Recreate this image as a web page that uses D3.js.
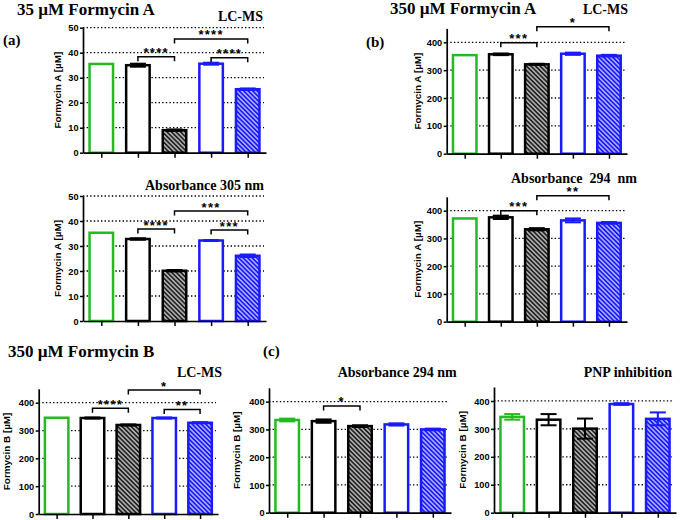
<!DOCTYPE html>
<html>
<head>
<meta charset="utf-8">
<script src="https://cdn.jsdelivr.net/npm/d3@7"></script>
<style>
  body { margin: 0; background: #fff; }
  .title { font-family: "Liberation Serif", "Times New Roman", serif; font-weight: bold; white-space: pre; }
  .tick text { font-family: "Liberation Sans", Arial, sans-serif; font-weight: bold; font-size: 9.2px; }
  .ylab { font-family: "Liberation Sans", Arial, sans-serif; font-weight: bold; font-size: 9.9px; }
  .stars { font-family: "Liberation Sans", Arial, sans-serif; font-weight: bold; font-size: 13px; letter-spacing: 1.3px; }
</style>
</head>
<body>
<div id="viz"></div>
<script>
// bar groups (the figure shows no x labels)
var groups = ["Control", "PNP", "PNP + inhibitor", "PNP 2", "PNP 2 + inhibitor"];

// 35 uM formycin A
var fa35LcmsMean = [35.5, 35.0, 9.0, 35.6, 25.4];
var fa35LcmsSd   = [0, 0.6, 0.3, 0.4, 0.3];
var fa35AbsMean  = [35.3, 32.8, 20.1, 32.2, 26.1];
var fa35AbsSd    = [0, 0.3, 0.3, 0.2, 0.5];
// 350 uM formycin A
var fa350LcmsMean = [354, 357, 321, 359, 352];
var fa350LcmsSd   = [0, 3, 2, 4, 3];
var fa350AbsMean  = [372, 376, 333, 365, 356];
var fa350AbsSd    = [0, 6, 4, 7, 3];
// 350 uM formycin B
var fb350LcmsMean = [346, 345, 320, 345, 328];
var fb350LcmsSd   = [0, 2, 2, 2, 2];
var fb350AbsMean  = [334, 330, 312, 318, 300];
var fb350AbsSd    = [5, 6, 3, 4, 3];
var pnpMean = [343, 333, 301, 389, 336];
var pnpSd   = [10, 20, 36, 3, 23];

// significance: [group a, group b, label]
var fa35LcmsSig  = [[1, 2, "****"], [2, 4, "****"], [3, 4, "****"]];
var fa35AbsSig   = [[1, 2, "****"], [2, 4, "***"], [3, 4, "***"]];
var fa350LcmsSig = [[1, 2, "***"], [2, 4, "*"]];
var fa350AbsSig  = [[1, 2, "***"], [2, 4, "**"]];
var fb350LcmsSig = [[1, 2, "****"], [2, 4, "*"], [3, 4, "**"]];
var fb350AbsSig  = [[1, 2, "*"]];
var pnpSig = [];

// tick labels
var ticksSmall = [0, 10, 20, 30, 40, 50];
var ticksLarge = [0, 100, 200, 300, 400];

// bar styles
var strokeCol = ["#22bb22", "#000", "#000", "#1a1aff", "#1a1aff"];
var fillCol = ["#fff", "#fff", "url(#hatchBlack)", "#fff", "url(#hatchBlue)"];

var W = 680, H = 520;
var svg = d3.select("#viz").append("svg")
  .attr("width", W).attr("height", H);

// hatch patterns
var defs = svg.append("defs");
function hatch(id, bg) {
  var p = defs.append("pattern")
    .attr("id", id)
    .attr("patternUnits", "userSpaceOnUse")
    .attr("width", 3.2).attr("height", 3.2)
    .attr("patternTransform", "rotate(-45)");
  p.append("rect").attr("width", 3.2).attr("height", 3.2).attr("fill", bg);
  p.append("line").attr("x1", 0.8).attr("x2", 0.8).attr("y1", 0).attr("y2", 3.2)
    .attr("stroke", "#fff").attr("stroke-width", 1);
}
hatch("hatchBlack", "#222");
hatch("hatchBlue", "#1a1aff");

var panels = [
  { mean: fa35LcmsMean, sd: fa35LcmsSd, sig: fa35LcmsSig, levels: [38.4, 45.5, 38],
    x0: 83, x1: 266, y0: 152.7, yTop: 27.7, max: 50, ticks: ticksSmall,
    ylab: "Formycin A [µM]", ylabX: 60.5 },
  { mean: fa35AbsMean, sd: fa35AbsSd, sig: fa35AbsSig, levels: [36.8, 44, 36.4],
    x0: 83, x1: 266, y0: 321, yTop: 196, max: 50, ticks: ticksSmall,
    ylab: "Formycin A [µM]", ylabX: 60.5 },
  { mean: fa350LcmsMean, sd: fa350LcmsSd, sig: fa350LcmsSig, levels: [398.6, 456],
    x0: 446.7, x1: 627, y0: 153.7, yTop: 28.4, max: 450, ticks: ticksLarge,
    ylab: "Formycin A [µM]", ylabX: 421 },
  { mean: fa350AbsMean, sd: fa350AbsSd, sig: fa350AbsSig, levels: [400, 454],
    x0: 446.7, x1: 627, y0: 321.7, yTop: 196.8, max: 450, ticks: ticksLarge,
    ylab: "Formycin A [µM]", ylabX: 421 },
  { mean: fb350LcmsMean, sd: fb350LcmsSd, sig: fb350LcmsSig, levels: [380, 445.6, 376],
    x0: 38.7, x1: 218, y0: 514, yTop: 388.8, max: 450, ticks: ticksLarge,
    ylab: "Formycin B [µM]", ylabX: 10 },
  { mean: fb350AbsMean, sd: fb350AbsSd, sig: fb350AbsSig, levels: [384.5],
    x0: 269, x1: 451, y0: 512.7, yTop: 387.8, max: 450, ticks: ticksLarge,
    ylab: "Formycin B [µM]", ylabX: 240 },
  { mean: pnpMean, sd: pnpSd, sig: pnpSig, levels: [],
    x0: 494, x1: 676, y0: 512.7, yTop: 387, max: 450, ticks: ticksLarge,
    ylab: "Formycin B [µM]", ylabX: 466 }
];

panels.forEach(function(p) {
  var g = svg.append("g");
  var x = d3.scalePoint().domain(groups).range([p.x0, p.x1]).padding(0.5);
  var y = d3.scaleLinear().domain([0, p.max]).range([p.y0, p.yTop]);
  var bw = 23.5;
  var gridVals = p.ticks.filter(function(t) { return t > 0; });

  // dotted grid
  g.selectAll(".grid").data(gridVals).enter().append("line")
    .attr("x1", p.x0).attr("x2", p.x1 - 2)
    .attr("y1", function(d) { return y(d); }).attr("y2", function(d) { return y(d); })
    .attr("stroke", "#000").attr("stroke-width", 1.3)
    .attr("stroke-dasharray", "1.4,2.2");

  var rows = groups.map(function(k, i) {
    return { key: k, i: i, m: p.mean[i], e: p.sd[i] };
  });

  // bars
  g.selectAll(".bar").data(rows).enter().append("rect")
    .attr("x", function(d) { return x(d.key) - bw / 2; })
    .attr("y", function(d) { return y(d.m); })
    .attr("width", bw)
    .attr("height", function(d) { return p.y0 - y(d.m); })
    .attr("fill", function(d) { return fillCol[d.i]; })
    .attr("stroke", function(d) { return strokeCol[d.i]; })
    .attr("stroke-width", 2.5);

  // error bars
  var eb = g.selectAll(".err").data(rows.filter(function(d) { return d.e > 0; }))
    .enter().append("g")
    .attr("stroke", function(d) { return strokeCol[d.i]; })
    .attr("stroke-width", 2);
  eb.append("line")
    .attr("x1", function(d) { return x(d.key); }).attr("x2", function(d) { return x(d.key); })
    .attr("y1", function(d) { return y(d.m - d.e); }).attr("y2", function(d) { return y(d.m + d.e); });
  [-1, 1].forEach(function(s) {
    eb.append("line")
      .attr("x1", function(d) { return x(d.key) - 8; }).attr("x2", function(d) { return x(d.key) + 8; })
      .attr("y1", function(d) { return y(d.m + s * d.e); }).attr("y2", function(d) { return y(d.m + s * d.e); });
  });

  // axes
  var xAxis = g.append("g")
    .attr("transform", "translate(0," + p.y0 + ")")
    .call(d3.axisBottom(x).tickSize(5).tickSizeOuter(0).tickFormat(""));
  var yAxis = g.append("g")
    .attr("transform", "translate(" + p.x0 + ",0)")
    .call(d3.axisLeft(y).tickValues(p.ticks).tickSize(3).tickSizeOuter(0).tickPadding(1.5));
  [xAxis, yAxis].forEach(function(a) {
    a.select(".domain").attr("stroke-width", 1.7);
    a.selectAll(".tick line").attr("stroke-width", 1.5);
  });
  yAxis.selectAll(".tick text").attr("dy", "0.34em");

  // y label
  g.append("text")
    .attr("class", "ylab")
    .attr("transform", "translate(" + p.ylabX + "," + ((p.y0 + p.yTop) / 2) + ") rotate(-90)")
    .attr("text-anchor", "middle")
    .text(p.ylab);

  // significance brackets
  p.sig.forEach(function(s, j) {
    var xa = x(groups[s[0]]), xb = x(groups[s[1]]), yy = y(p.levels[j]);
    g.append("path")
      .attr("d", "M" + xa + "," + (yy + 4.5) + "V" + yy + "H" + xb + "V" + (yy + 4.5))
      .attr("fill", "none").attr("stroke", "#000").attr("stroke-width", 1.5);
    g.append("text")
      .attr("class", "stars")
      .attr("x", (xa + xb) / 2).attr("y", yy + 0.5)
      .attr("text-anchor", "middle")
      .text(s[2]);
  });
});

// titles and panel letters
var titles = [
  { t: "35 µM Formycin A", x: 17, y: 15, size: 17, anchor: "start" },
  { t: "LC-MS", x: 263, y: 20.5, size: 14, anchor: "end" },
  { t: "(a)", x: 3, y: 45, size: 15, anchor: "start" },
  { t: "Absorbance 305 nm", x: 264, y: 189.5, size: 14, anchor: "end" },
  { t: "350 µM Formycin A", x: 390, y: 13.5, size: 17, anchor: "start" },
  { t: "LC-MS", x: 628, y: 13.5, size: 14, anchor: "end" },
  { t: "(b)", x: 366, y: 47, size: 15, anchor: "start" },
  { t: "Absorbance  294  nm", x: 637, y: 182.5, size: 14, anchor: "end" },
  { t: "350 µM Formycin B", x: 8, y: 357, size: 17, anchor: "start" },
  { t: "LC-MS", x: 222, y: 376.7, size: 14, anchor: "end" },
  { t: "(c)", x: 263, y: 356, size: 15, anchor: "start" },
  { t: "Absorbance 294 nm", x: 456.7, y: 377.3, size: 14, anchor: "end" },
  { t: "PNP inhibition", x: 672, y: 377.3, size: 14, anchor: "end" }
];
svg.selectAll(".title").data(titles).enter().append("text")
  .attr("class", "title")
  .attr("x", function(d) { return d.x; })
  .attr("y", function(d) { return d.y; })
  .attr("font-size", function(d) { return d.size; })
  .attr("text-anchor", function(d) { return d.anchor; })
  .text(function(d) { return d.t; });
</script>
</body>
</html>
